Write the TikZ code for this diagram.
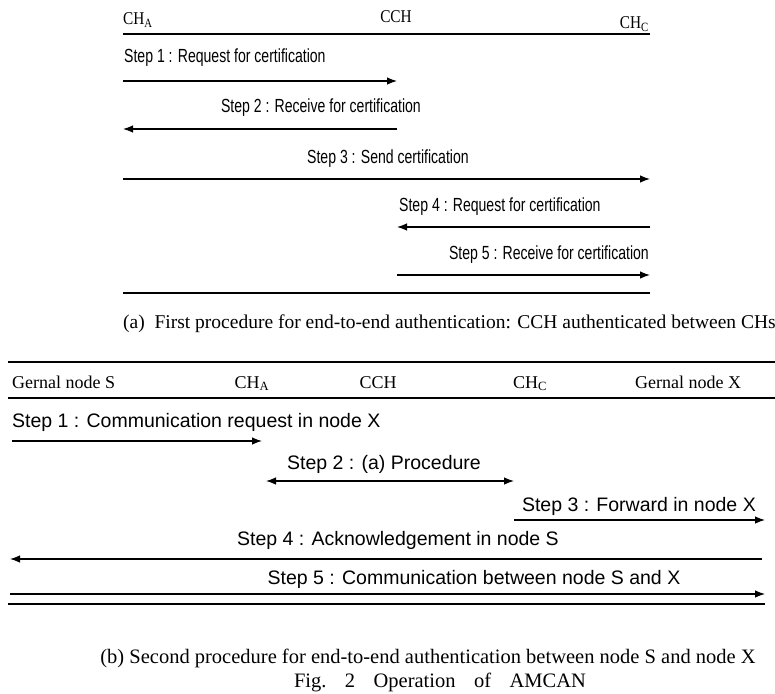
\documentclass[tikz,border=0pt]{standalone}
\usepackage{fontspec}
\setmainfont{Liberation Serif}
\newfontfamily\narrowsf[FakeStretch=0.74]{Liberation Sans}
\newfontfamily\stepsf{Liberation Sans}
\newfontfamily\narrowrm[FakeStretch=0.85]{Liberation Serif}
\usetikzlibrary{arrows.meta}

\begin{document}
\begin{tikzpicture}[x=1pt, y=-1pt,
		lbla/.style = {inner sep=0pt, font=\narrowrm\fontsize{18}{20}\selectfont},
		lblb/.style = {inner sep=0pt, font=\fontsize{18}{20}\selectfont},
		stepa/.style = {inner sep=0pt, font=\narrowsf\fontsize{19}{21}\selectfont},
		stepb/.style = {inner sep=0pt, font=\stepsf\fontsize{19.5}{22}\selectfont},
		capt/.style = {inner sep=0pt, font=\fontsize{19.5}{22}\selectfont},
		msg/.style = {-{Latex[length=10pt,width=7.5pt]}, line width=1.2pt},
		bimsg/.style = {{Latex[length=10pt,width=7.5pt]}-{Latex[length=10pt,width=7.5pt]}, line width=1.2pt},
		rulea/.style = {line width=1.4pt},
		ruleb/.style = {line width=2.8pt},
	]
	\useasboundingbox (0,0) rectangle (775,693);

	% (a) first procedure
	\node[lbla, anchor=base west] (chA) at (123,25) {CH\textsubscript{A}};
	\node[lbla, anchor=base] (cch) at (396,23) {CCH};
	\node[lbla, anchor=base east] (chC) at (649,29) {CH\textsubscript{C}};
	\draw[rulea] (123,34) -- (650,34);

	\coordinate (a1s) at (123,81);  \coordinate (a1e) at (397,81);
	\coordinate (a2s) at (397,129); \coordinate (a2e) at (123,129);
	\coordinate (a3s) at (123,179); \coordinate (a3e) at (650,179);
	\coordinate (a4s) at (650,227); \coordinate (a4e) at (397,227);
	\coordinate (a5s) at (397,275); \coordinate (a5e) at (650,275);

	\node[stepa, anchor=base west] (sa1) at (124,63) {Step 1 : Request for certification};
	\draw[msg] (a1s) -- (a1e);
	\node[stepa, anchor=base east] (sa2) at (421,112) {Step 2 : Receive for certification};
	\draw[msg] (a2s) -- (a2e);
	\node[stepa, anchor=base west] (sa3) at (307,163) {Step 3 : Send certification};
	\draw[msg] (a3s) -- (a3e);
	\node[stepa, anchor=base west] (sa4) at (399,211) {Step 4 : Request for certification};
	\draw[msg] (a4s) -- (a4e);
	\node[stepa, anchor=base east] (sa5) at (649,259) {Step 5 : Receive for certification};
	\draw[msg] (a5s) -- (a5e);

	\draw[rulea] (123,293) -- (650,293);
	\node[capt, anchor=base west] (capa) at (123,328) {(a)\enspace First procedure for end-to-end authentication: CCH authenticated between CHs};

	% (b) second procedure
	\draw[ruleb] (8,362) -- (775,362);
	\node[lblb, anchor=base west] (nS) at (12,388) {Gernal node S};
	\node[lblb, anchor=base] (hA) at (252,388) {CH\textsubscript{A}};
	\node[lblb, anchor=base] (hCCH) at (378,388) {CCH};
	\node[lblb, anchor=base] (hC) at (530,388) {CH\textsubscript{C}};
	\node[lblb, anchor=base] (nX) at (688,388) {Gernal node X};
	\draw[ruleb] (8,398) -- (775,398);

	\coordinate (b1s) at (12,441);  \coordinate (b1e) at (262,441);
	\coordinate (b2s) at (266,481); \coordinate (b2e) at (514,481);
	\coordinate (b3s) at (514,520); \coordinate (b3e) at (765,520);
	\coordinate (b4s) at (762,559); \coordinate (b4e) at (10,559);
	\coordinate (b5s) at (10,594);  \coordinate (b5e) at (765,594);

	\node[stepb, anchor=base west] (sb1) at (12,427) {Step 1 : Communication request in node X};
	\draw[msg] (b1s) -- (b1e);
	\node[stepb, anchor=base] (sb2) at (384,469) {Step 2 : (a) Procedure};
	\draw[bimsg] (b2s) -- (b2e);
	\node[stepb, anchor=base east] (sb3) at (756,511) {Step 3 : Forward in node X};
	\draw[msg] (b3s) -- (b3e);
	\node[stepb, anchor=base] (sb4) at (398,545) {Step 4 : Acknowledgement in node S};
	\draw[msg] (b4s) -- (b4e);
	\node[stepb, anchor=base] (sb5) at (474,584) {Step 5 : Communication between node S and X};
	\draw[msg] (b5s) -- (b5e);
	\draw[ruleb] (8,604) -- (765,604);

	\node[capt, anchor=base, font=\fontsize{20.5}{22}\selectfont] (capb) at (428,663) {(b) Second procedure for end-to-end authentication between node S and node X};
	\node[capt, anchor=base, font=\fontsize{20.5}{22}\selectfont] (fig) at (440,687) {Fig.\hspace{0.9em}2\hspace{0.9em}Operation\hspace{0.9em}of\hspace{0.9em}AMCAN};
\end{tikzpicture}
\end{document}
